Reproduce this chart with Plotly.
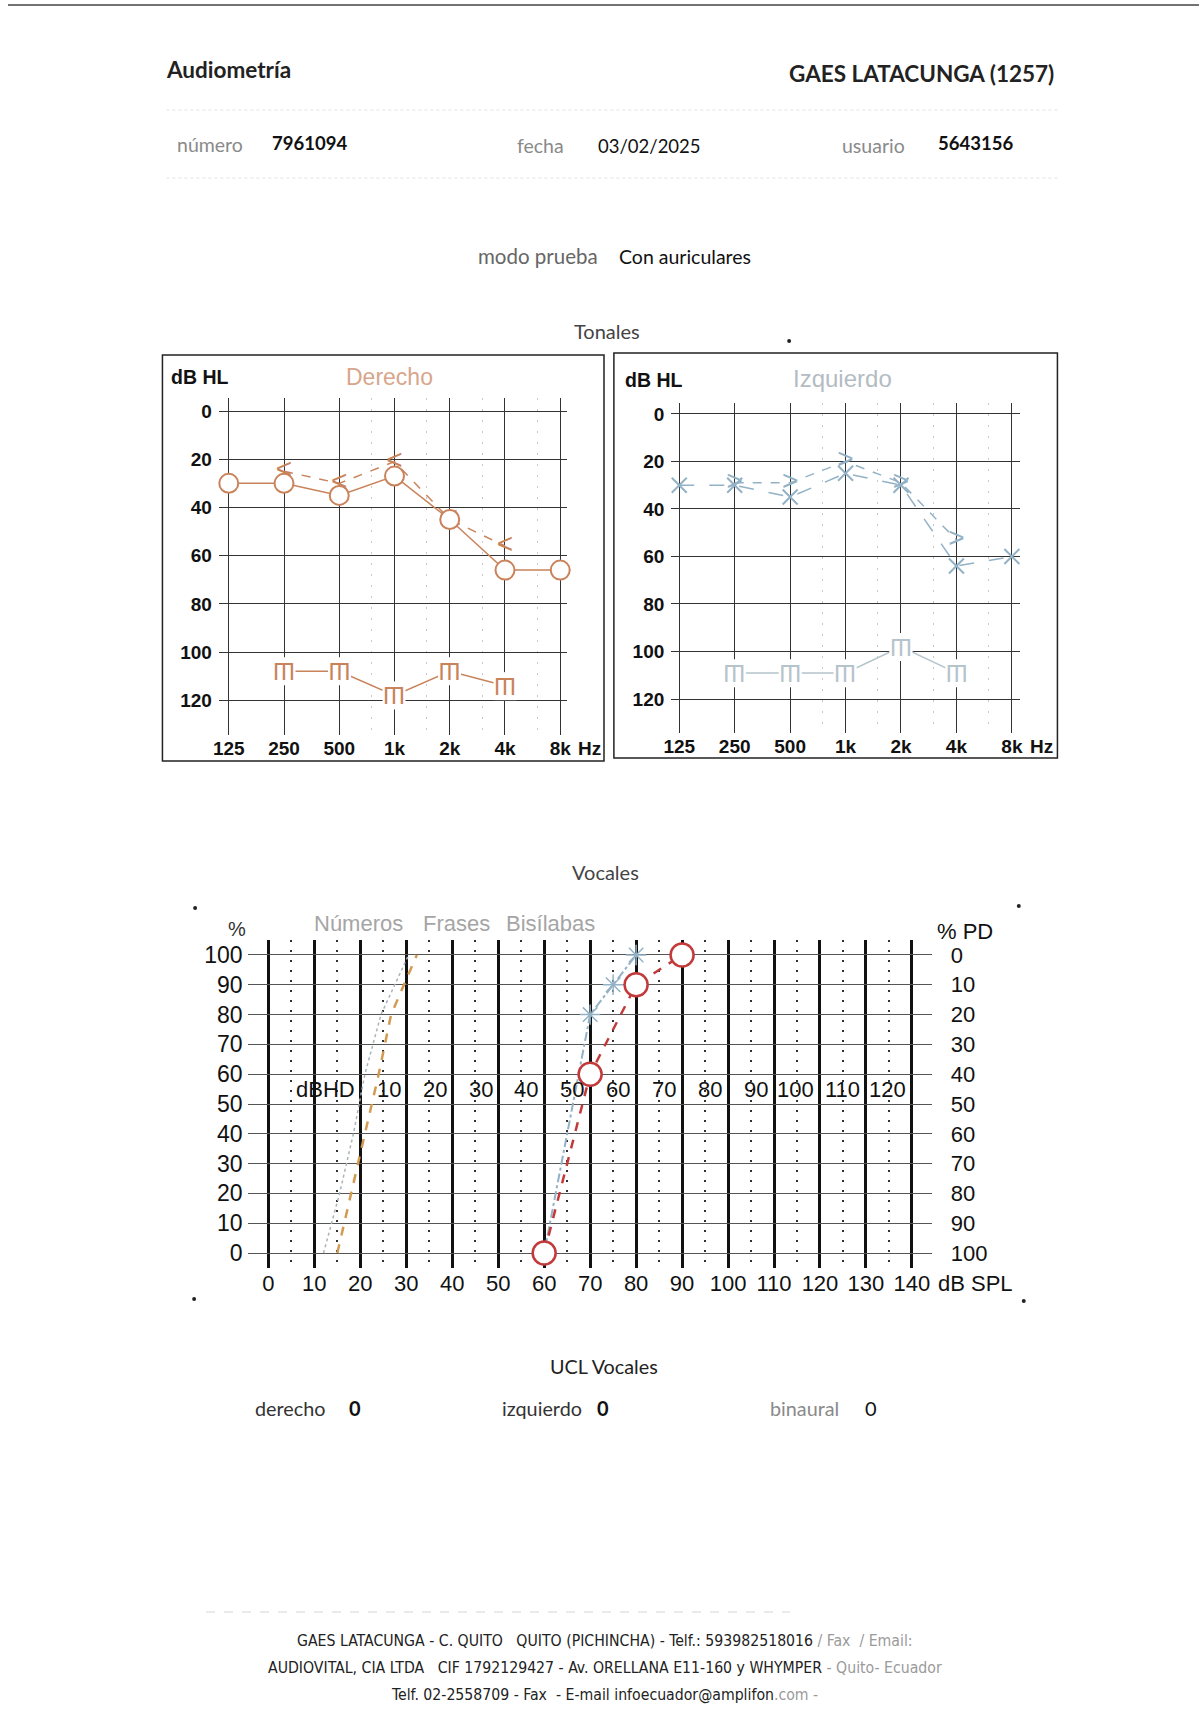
import numpy as np
import plotly.graph_objects as go

W, H = 1203, 1712

# --- Tonales ---
freqs = [125, 250, 500, 1000, 2000, 4000, 8000]
freq_labels = ["125", "250", "500", "1k", "2k", "4k", "8k"]
db_ticks = [0, 20, 40, 60, 80, 100, 120]
mid_freqs = [750, 1500, 3000, 6000]

der_aerea = [30, 30, 35, 27, 45, 66, 66]
der_osea_f = [250, 500, 1000, 2000, 4000]
der_osea = [25, 30, 21, 45, 56]
der_ucl_f = [250, 500, 1000, 2000, 4000]
der_ucl = [108, 108, 118, 108, 114]

izq_aerea = [30, 30, 35, 25, 30, 64, 60]
izq_osea_f = [250, 500, 1000, 2000, 4000]
izq_osea = [29, 29, 20, 29, 53]
izq_ucl_f = [250, 500, 1000, 2000, 4000]
izq_ucl = [109, 109, 109, 98, 109]

# --- Vocales ---
spl_ticks = list(range(0, 141, 10))
pct_ticks = list(range(0, 101, 10))
pd_labels = [str(100 - p) for p in pct_ticks]
hd_labels = ["dBHD", "10", "20", "30", "40", "50", "60", "70", "80", "90", "100", "110", "120"]
hd_spl = [20, 30, 40, 50, 60, 70, 80, 90, 100, 110, 120, 130, 140]

der_voc_spl = [60, 70, 80, 90]
der_voc_pct = [0, 60, 90, 100]
izq_voc_spl = [60, 70, 75, 80]
izq_voc_pct = [0, 80, 90, 100]
numeros_spl = [12, 15.5, 18.5, 21, 24.5, 30.5]
numeros_pct = [0, 20, 40, 60, 80, 100]
frases_spl = [15, 18, 21, 24, 26.7, 32.3]
frases_pct = [0, 20, 40, 60, 80, 100]

DER = "#c9835a"
DER_T = "#d8a68c"
IZQ = "#93b2c6"
IZQ_U = "#b5c3cc"
IZQ_T = "#b3bcc3"
RED = "#c23a3a"
HF = "Lato, Open Sans, sans-serif"
CF = "Liberation Sans, Arial, sans-serif"
NF = "Liberation Sans Narrow, DejaVu Sans Condensed, Lato, sans-serif"


def fx(x):
    return x / W


def fy(y):
    return 1 - y / H


fig = go.Figure()

# derecho
fig.add_trace(go.Scatter(x=der_osea_f, y=der_osea, mode="lines+text", text=["<"] * len(der_osea),
                         textfont=dict(size=28, color=DER, family=CF), textposition="middle center",
                         line=dict(color=DER, width=1.5, dash="dash"), cliponaxis=False, xaxis="x", yaxis="y"))
fig.add_trace(go.Scatter(x=freqs, y=der_aerea, mode="lines+markers",
                         line=dict(color=DER, width=1.5), cliponaxis=False,
                         marker=dict(symbol="circle", size=19, color="white", line=dict(color=DER, width=2)),
                         xaxis="x", yaxis="y"))
fig.add_trace(go.Scatter(x=der_ucl_f, y=der_ucl, mode="lines", line=dict(color=DER, width=1.5),
                         xaxis="x", yaxis="y"))

# izquierdo
fig.add_trace(go.Scatter(x=izq_osea_f, y=izq_osea, mode="lines+text", text=[">"] * len(izq_osea),
                         textfont=dict(size=28, color=IZQ, family=CF), textposition="middle center",
                         line=dict(color=IZQ, width=1.5, dash="dash"), cliponaxis=False, xaxis="x2", yaxis="y2"))
fig.add_trace(go.Scatter(x=freqs, y=izq_aerea, mode="lines+markers",
                         line=dict(color=IZQ, width=1.5, dash="longdash"), cliponaxis=False,
                         marker=dict(symbol="x-thin-open", size=15, color=IZQ, line=dict(color=IZQ, width=2)),
                         xaxis="x2", yaxis="y2"))
fig.add_trace(go.Scatter(x=izq_ucl_f, y=izq_ucl, mode="lines", line=dict(color=IZQ_U, width=1.5),
                         xaxis="x2", yaxis="y2"))

# vocales
fig.add_trace(go.Scatter(x=numeros_spl, y=numeros_pct, mode="lines", line=dict(color="#aab3ba", width=1.5, dash="dot"),
                         xaxis="x3", yaxis="y3"))
fig.add_trace(go.Scatter(x=frases_spl, y=frases_pct, mode="lines", line=dict(color="#d39a52", width=2.5, dash="dash"),
                         xaxis="x3", yaxis="y3"))
fig.add_trace(go.Scatter(x=izq_voc_spl, y=izq_voc_pct, mode="lines+markers", cliponaxis=False,
                         line=dict(color=IZQ, width=2, dash="dashdot"),
                         marker=dict(symbol="asterisk-open", size=17, color=IZQ, line=dict(color=IZQ, width=1.5)),
                         xaxis="x3", yaxis="y3"))
fig.add_trace(go.Scatter(x=der_voc_spl, y=der_voc_pct, mode="lines+markers", cliponaxis=False,
                         line=dict(color=RED, width=2.5, dash="dash"),
                         marker=dict(symbol="circle", size=23, color="white", line=dict(color=RED, width=2.5)),
                         xaxis="x3", yaxis="y3"))

annotations = []
# UCL symbols (inverted Ш)
for f, v in zip(der_ucl_f, der_ucl):
    annotations.append(dict(x=np.log10(f), y=v, xref="x", yref="y", text="Ш", textangle=180, showarrow=False,
                            font=dict(size=24, color=DER, family=CF), bgcolor="white", borderpad=0))
for f, v in zip(izq_ucl_f, izq_ucl):
    annotations.append(dict(x=np.log10(f), y=v, xref="x2", yref="y2", text="Ш", textangle=180, showarrow=False,
                            font=dict(size=24, color=IZQ_U, family=CF), bgcolor="white", borderpad=0))
# dBHD scale
for lab, s in zip(hd_labels, hd_spl):
    annotations.append(dict(x=s - 0.8, y=55, xref="x3", yref="y3", text=lab, showarrow=False,
                            xanchor="right", font=dict(size=22, color="#111", family=CF)))


def ann(text, x, y, size=17, color="#222", xanchor="left", bold=False, family=HF):
    annotations.append(dict(text=text, x=fx(x), y=fy(y), xref="paper", yref="paper", showarrow=False,
                            xanchor=xanchor, yanchor="middle",
                            font=dict(family=family, size=size, color=color, weight="bold" if bold else "normal")))


ann("Audiometría", 158, 70, 22.5, "#222", bold=True)
ann("GAES LATACUNGA (1257)", 1059, 73, 22.5, "#222", "right", bold=True)
ann("número", 169, 144, 19.5, "#8a8a8a")
ann("7961094", 265, 143, 18.5, "#111", bold=True)
ann("fecha", 512, 146, 19.5, "#8a8a8a")
ann("03/02/2025", 594, 146, 18.5, "#111")
ann("usuario", 840, 146, 19.5, "#8a8a8a")
ann("5643156", 937, 143, 18.5, "#111", bold=True)
ann("modo prueba", 473, 256, 20.5, "#666")
ann("Con auriculares", 615, 256, 19.5, "#111")
ann("Tonales", 605, 331, 20, "#444", "center")
ann("Vocales", 604, 872, 20, "#444", "center")
ann("UCL Vocales", 602, 1366, 19.8, "#222", "center")
ann("derecho", 247, 1408, 19.8, "#333")
ann("0", 350, 1408, 20, "#111", "center", bold=True)
ann("izquierdo", 497, 1408, 19.8, "#333")
ann("0", 601, 1408, 20, "#111", "center", bold=True)
ann("binaural", 768, 1408, 19.8, "#8a8a8a")
ann("0", 872, 1408, 20, "#111", "center")

# chart labels
ann("dB HL", 163, 377, 19.5, "#111", bold=True, family=CF)
ann("Derecho", 385, 377, 23, DER_T, "center", family=CF)
ann("Hz", 574, 748, 19, "#111", bold=True, family=CF)
ann("dB HL", 621, 380, 19.5, "#111", bold=True, family=CF)
ann("Izquierdo", 843, 378, 24, IZQ_T, "center", family=CF)
ann("Hz", 1030, 746, 19, "#111", bold=True, family=CF)

ann("Números", 307, 923, 22, "#a5a5a5", family=CF)
ann("Frases", 417, 923, 22, "#a5a5a5", family=CF)
ann("Bisílabas", 501, 923, 22, "#a5a5a5", family=CF)
ann("%", 231, 929, 20, "#333", "center", family=CF)
ann("% PD", 936, 931, 22, "#111", family=CF)
ann("dB SPL", 977, 1283, 22, "#111", "center", family=CF)

# footer
G = "<span style='color:#9a9a9a'>"
ann("GAES LATACUNGA - C. QUITO \u00a0 QUITO (PICHINCHA) - Telf.: 593982518016 " + G + "/ Fax \u00a0/ Email:</span>",
    603, 1640, 15.7, "#222", "center", family=NF)
ann("AUDIOVITAL, CIA LTDA \u00a0 CIF 1792129427 - Av. ORELLANA E11-160 y WHYMPER " + G + "- Quito- Ecuador</span>",
    603, 1667, 15.7, "#222", "center", family=NF)
ann("Telf. 02-2558709 - Fax \u00a0- E-mail infoecuador@amplifon" + G + ".com -</span>",
    603, 1694, 15.7, "#222", "center", family=NF)

shapes = [
    dict(type="rect", xref="paper", yref="paper", x0=fx(156), x1=fx(602), y0=fy(761), y1=fy(355),
         line=dict(color="#222", width=1.5)),
    dict(type="rect", xref="paper", yref="paper", x0=fx(612), x1=fx(1060), y0=fy(758), y1=fy(353),
         line=dict(color="#222", width=1.5)),
    dict(type="line", xref="paper", yref="paper", x0=0, x1=1, y0=fy(5), y1=fy(5),
         line=dict(color="#444", width=1.5)),
    dict(type="line", xref="paper", yref="paper", x0=fx(160), x1=fx(1060), y0=fy(110), y1=fy(110),
         line=dict(color="#e2e2e2", width=1, dash="dot")),
    dict(type="line", xref="paper", yref="paper", x0=fx(160), x1=fx(1060), y0=fy(178), y1=fy(178),
         line=dict(color="#e2e2e2", width=1, dash="dot")),
    dict(type="line", xref="paper", yref="paper", x0=fx(200), x1=fx(790), y0=fy(1612), y1=fy(1612),
         line=dict(color="#d5d5d5", width=1, dash="dash")),
]
for cx, cy in [(189, 908), (1021, 906), (188, 1299), (1026, 1301), (789, 341)]:
    shapes.append(dict(type="circle", xref="paper", yref="paper", x0=fx(cx - 2), x1=fx(cx + 2),
                       y0=fy(cy + 2), y1=fy(cy - 2), fillcolor="#222", line=dict(width=0)))

tick_bold = dict(family=CF, size=19, color="#111", weight="bold")
big = dict(family=CF, size=22, color="#111")
big_y = dict(family=CF, size=23, color="#111")
lg2 = np.log10(2)

fig.update_layout(
    width=W, height=H, autosize=False, showlegend=False,
    margin=dict(l=0, r=0, t=0, b=0),
    paper_bgcolor="white", plot_bgcolor="white",
    annotations=annotations, shapes=shapes,
    xaxis=dict(domain=[fx(213), fx(565)], anchor="y", type="log",
               range=[np.log10(125) - 0.179 * lg2, np.log10(125) + 6.129 * lg2],
               tickvals=freqs, ticktext=freq_labels, tickfont=tick_bold, ticks="",
               showgrid=True, gridcolor="#333", gridwidth=1, zeroline=False, showline=False,
               minor=dict(tickvals=mid_freqs, showgrid=True, gridcolor="#c8c8c8", griddash="2px,9px", gridwidth=1)),
    yaxis=dict(domain=[fy(735), fy(398)], anchor="x", range=[134.4, -5.4],
               tickvals=db_ticks, tickfont=tick_bold, ticks="", ticklabelstandoff=6,
               showgrid=True, gridcolor="#333", gridwidth=1, zeroline=False, showline=False),
    xaxis2=dict(domain=[fx(670), fx(1022)], anchor="y2", type="log",
                range=[np.log10(125) - 0.143 * lg2, np.log10(125) + 6.143 * lg2],
                tickvals=freqs, ticktext=freq_labels, tickfont=tick_bold, ticks="",
                showgrid=True, gridcolor="#333", gridwidth=1, zeroline=False, showline=False,
                minor=dict(tickvals=mid_freqs, showgrid=True, gridcolor="#c8c8c8", griddash="2px,9px", gridwidth=1)),
    yaxis2=dict(domain=[fy(733), fy(403)], anchor="x2", range=[134.3, -4.6],
                tickvals=db_ticks, tickfont=tick_bold, ticks="", ticklabelstandoff=6,
                showgrid=True, gridcolor="#333", gridwidth=1, zeroline=False, showline=False),
    xaxis3=dict(domain=[fx(242), fx(933)], anchor="y3", range=[-4.52, 144.3],
                tickvals=spl_ticks, tickfont=big, ticks="",
                showgrid=True, gridcolor="#111", gridwidth=2.5, zeroline=False, showline=False,
                minor=dict(dtick=5, showgrid=True, gridcolor="#333", griddash="2px,8px", gridwidth=1.5)),
    yaxis3=dict(domain=[fy(1268), fy(940)], anchor="x3", range=[-5.03, 105.03],
                tickvals=pct_ticks, tickfont=big_y, ticks="", ticklabelstandoff=4,
                showgrid=True, gridcolor="#555", gridwidth=1.2, zeroline=False, showline=False),
    yaxis4=dict(overlaying="y3", anchor="x3", side="right", range=[-5.03, 105.03],
                tickvals=pct_ticks, ticktext=pd_labels, tickfont=big, ticks="", ticklabelstandoff=18,
                showgrid=False, zeroline=False, showline=False),
)

# invisible trace to activate the right % PD axis
fig.add_trace(go.Scatter(x=[None], y=[None], xaxis="x3", yaxis="y4", showlegend=False))

fig.write_html("out.html",
               config={"displayModeBar": False, "responsive": False},
               post_script="document.body.style.margin='0';"
                           "document.body.style.overflow='hidden';"
                           "document.documentElement.style.overflow='hidden';")
